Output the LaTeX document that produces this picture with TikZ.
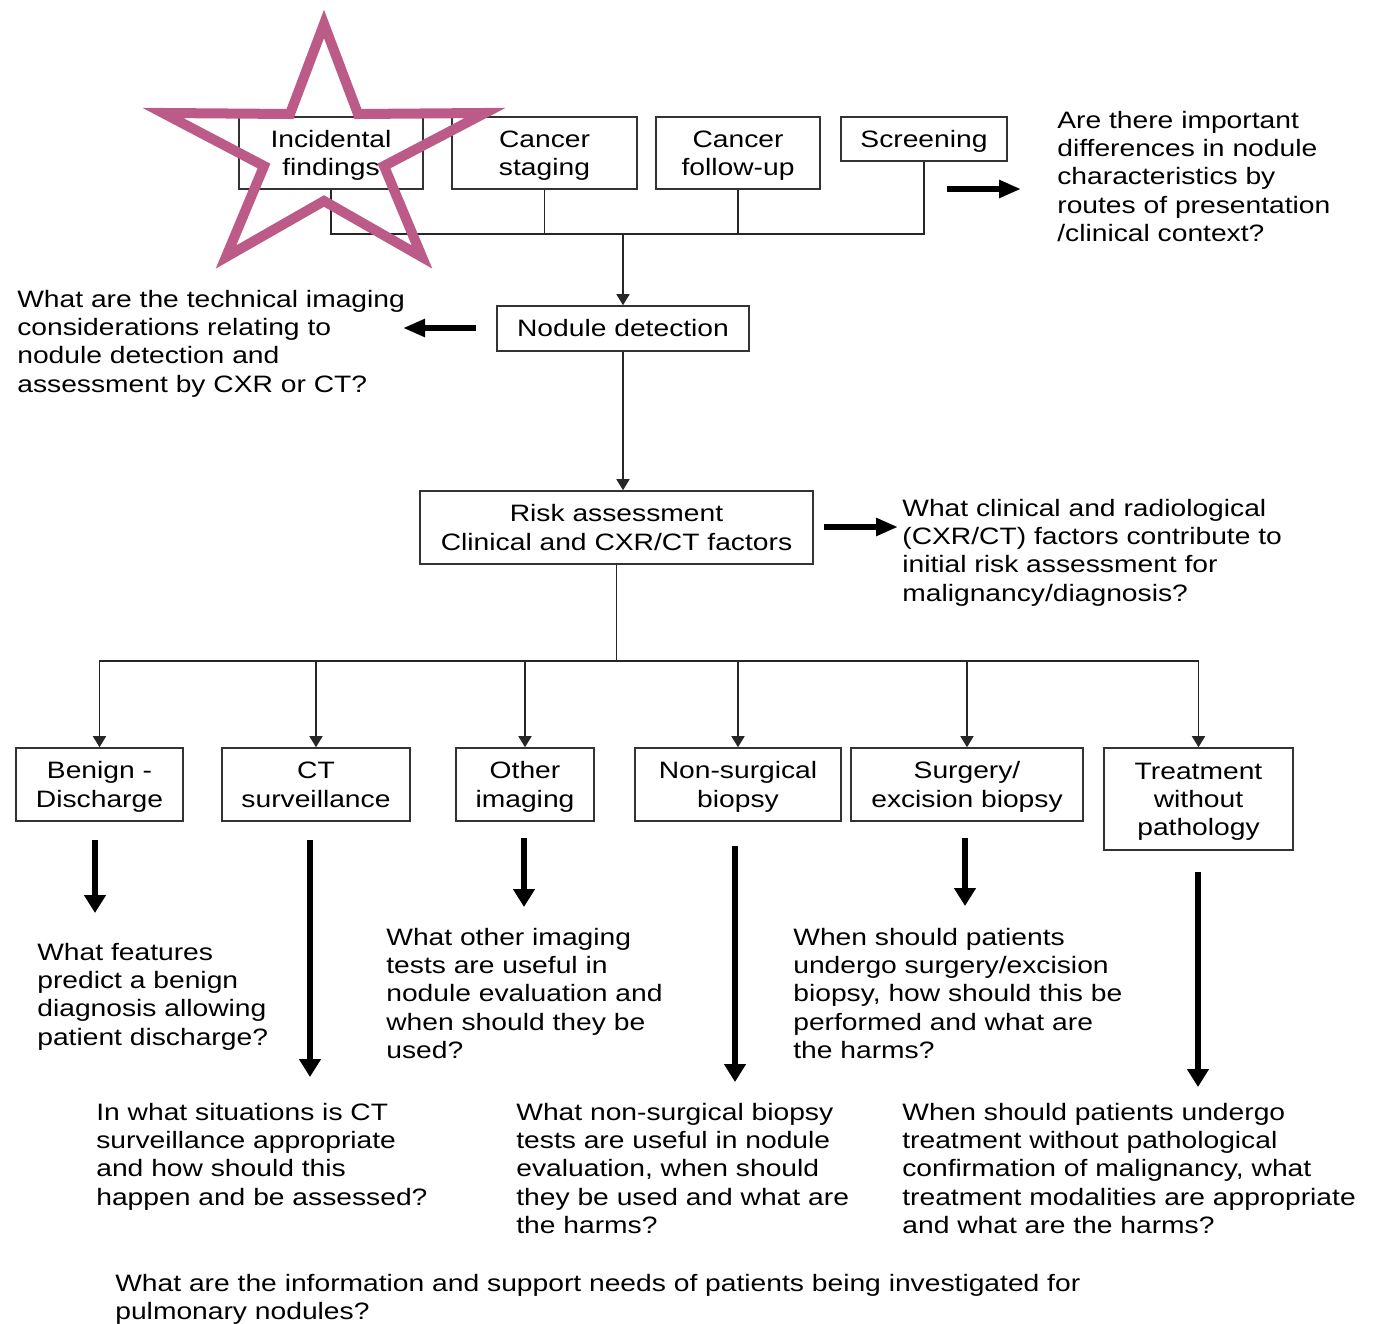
\documentclass[tikz,border=0pt]{standalone}
\usepackage{fontspec}
\setmainfont{Liberation Sans}[FakeStretch=1.19]
\usetikzlibrary{arrows.meta}
\definecolor{starpink}{RGB}{189,91,136}
% strut for box and question text
\newcommand{\bx}{\rule[-2.85pt]{0pt}{15.37pt}}

\begin{document}
\begin{tikzpicture}[x=0.02cm, y=-0.02cm,
  every node/.style={font=\fontsize{13.5pt}{16.1pt}\selectfont, inner sep=0pt},
  box/.style={draw=black!80, line width=0.9pt, align=center},
  ques/.style={anchor=north west, align=left},
  link/.style={draw=black!85, line width=0.9pt},
  flow/.style={link, -{Triangle[width=0.26cm,length=0.22cm]}},
  fat/.style={line width=3.1pt, -{Triangle[width=0.42cm,length=0.36cm]}},
  fatside/.style={line width=3.1pt, -{Triangle[width=0.34cm,length=0.44cm]}}]
\useasboundingbox (0,0) rectangle (1382,1324);

% routes of presentation
\node[box, minimum width=3.68cm, minimum height=1.44cm] (inc) at (331,153) {\bx Incidental\\findings\bx};
\node[box, minimum width=3.70cm, minimum height=1.44cm] (stag) at (544.5,153) {\bx Cancer\\staging\bx};
\node[box, minimum width=3.28cm, minimum height=1.44cm] (fol) at (738,153) {\bx Cancer\\follow-up\bx};
\node[box, minimum width=3.32cm, minimum height=0.88cm] (scr) at (924,139) {\bx Screening\bx};

\node[box, minimum width=5.04cm, minimum height=0.90cm] (nod) at (623,328.5) {\bx Nodule detection\bx};
\node[box, minimum width=7.86cm, minimum height=1.46cm] (risk) at (616.5,527.5) {\bx Risk assessment\\Clinical and CXR/CT factors\bx};

% management options
\node[box, minimum width=3.34cm, minimum height=1.46cm] (ben) at (99.5,784.5) {\bx Benign -\\Discharge\bx};
\node[box, minimum width=3.76cm, minimum height=1.46cm] (cts) at (316,784.5) {\bx CT\\surveillance\bx};
\node[box, minimum width=2.76cm, minimum height=1.46cm] (oth) at (525,784.5) {\bx Other\\imaging\bx};
\node[box, minimum width=4.12cm, minimum height=1.46cm] (nsb) at (738,784.5) {\bx Non-surgical\\biopsy\bx};
\node[box, minimum width=4.64cm, minimum height=1.46cm] (sur) at (967,784.5) {\bx Surgery/\\excision biopsy\bx};
\node[box, minimum width=3.78cm, minimum height=2.04cm] (trt) at (1198.5,799) {\bx Treatment\\without\\pathology\bx};

% questions
\node[ques] (qtop) at (1057,106) {\bx Are there important\\differences in nodule\\characteristics by\\routes of presentation\\/clinical context?};
\node[ques] (qnod) at (17,285) {\bx What are the technical imaging\\considerations relating to\\nodule detection and\\assessment by CXR or CT?};
\node[ques] (qrisk) at (902,494) {\bx What clinical and radiological\\(CXR/CT) factors contribute to\\initial risk assessment for\\malignancy/diagnosis?};
\node[ques] (qben) at (37,938) {\bx What features\\predict a benign\\diagnosis allowing\\patient discharge?};
\node[ques] (qoth) at (386,923) {\bx What other imaging\\tests are useful in\\nodule evaluation and\\when should they be\\used?};
\node[ques] (qsur) at (793,923) {\bx When should patients\\undergo surgery/excision\\biopsy, how should this be\\performed and what are\\the harms?};
\node[ques] (qcts) at (96,1098) {\bx In what situations is CT\\surveillance appropriate\\and how should this\\happen and be assessed?};
\node[ques] (qnsb) at (516,1098) {\bx What non-surgical biopsy\\tests are useful in nodule\\evaluation, when should\\they be used and what are\\the harms?};
\node[ques] (qtrt) at (902,1098) {\bx When should patients undergo\\treatment without pathological\\confirmation of malignancy, what\\treatment modalities are appropriate\\and what are the harms?};
\node[ques] (qall) at (115,1269) {\bx What are the information and support needs of patients being investigated for\\pulmonary nodules?};

% thin connectors
\coordinate (top) at (623,234);
\coordinate (bar) at (616.5,661);
\draw[link] (inc) |- (top) -| (scr);
\draw[link] (stag) -- (stag |- top);
\draw[link] (fol) -- (fol |- top);
\draw[flow] (top) -- (nod);
\draw[flow] (nod) -- (nod |- risk.north);
\draw[link] (risk) -- (bar);
\foreach \b in {ben,cts,oth,nsb,sur,trt}
  \draw[flow] (bar) -| (\b);

% thick arrows to the questions
\coordinate (a1) at (947,189);  \coordinate (a1h) at (1021,189);
\coordinate (a2) at (476,328);  \coordinate (a2h) at (403,328);
\coordinate (a3) at (824,527);  \coordinate (a3h) at (898,527);
\coordinate (b1) at (95,840);   \coordinate (b1h) at (95,913);
\coordinate (b2) at (310,840);  \coordinate (b2h) at (310,1077);
\coordinate (b3) at (524,838);  \coordinate (b3h) at (524,907);
\coordinate (b4) at (735,846);  \coordinate (b4h) at (735,1082);
\coordinate (b5) at (965,838);  \coordinate (b5h) at (965,906);
\coordinate (b6) at (1198,872); \coordinate (b6h) at (1198,1087);
\draw[fatside] (a1) -- (a1h);
\draw[fatside] (a2) -- (a2h);
\draw[fatside] (a3) -- (a3h);
\draw[fat] (b1) -- (b1h);
\draw[fat] (b2) -- (b2h);
\draw[fat] (b3) -- (b3h);
\draw[fat] (b4) -- (b4h);
\draw[fat] (b5) -- (b5h);
\draw[fat] (b6) -- (b6h);

% star over incidental findings
\draw[starpink, line width=5.7pt] (324,24) -- (358,114) -- (485,113) -- (384,166) -- (422,257)
  -- (324,201) -- (226,257) -- (264,166) -- (163,113) -- (290,114) -- cycle;
\end{tikzpicture}
\end{document}
